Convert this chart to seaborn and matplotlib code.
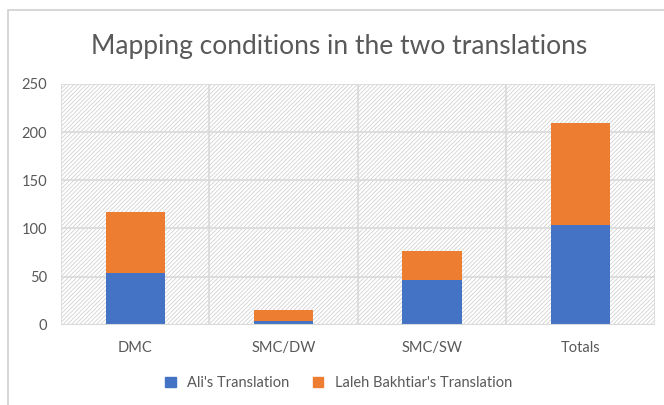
import matplotlib
matplotlib.use("Agg")
from matplotlib import pyplot as plt
from matplotlib.patches import Rectangle, Patch
import numpy as np
import pandas as pd
import seaborn as sns

categories = ["DMC", "SMC/DW", "SMC/SW", "Totals"]
ali = [54, 4, 46, 104]
laleh = [63, 11, 31, 105]
yticks = [0, 50, 100, 150, 200, 250]

blue = "#4472C4"
orange = "#ED7D31"
grid_col = "#d9d9d9"
text_col = "#595959"

sns.set_style("white")
plt.rcParams['font.family'] = ['Lato', 'DejaVu Sans']
plt.rcParams['hatch.linewidth'] = 0.6

df = pd.DataFrame({"cat": categories, "ali": ali, "laleh": laleh})
df["total"] = df["ali"] + df["laleh"]

fig = plt.figure(figsize=(6.64, 4.05), dpi=100)
ax = fig.add_axes([0.092, 0.198, 0.894, 0.595])

# hatched plot area
ax.add_patch(Rectangle((0, 0), 1, 1, transform=ax.transAxes, facecolor="white",
                       edgecolor="#d2d2d2", hatch="////////", lw=0, zorder=0))

sns.barplot(data=df, x="cat", y="total", color=orange, width=0.4,
            saturation=1, linewidth=0, ax=ax, zorder=3)
sns.barplot(data=df, x="cat", y="ali", color=blue, width=0.4,
            saturation=1, linewidth=0, ax=ax, zorder=4)

ax.set_xlim(-0.5, len(categories) - 0.5)
ax.set_ylim(0, 250)
ax.set_yticks(yticks)
for y in yticks[1:]:
    ax.axhline(y, color=grid_col, lw=1.2, zorder=1)
for x in np.arange(-0.5, len(categories), 1.0):
    ax.axvline(x, color=grid_col, lw=1.2, zorder=1)
for s in ax.spines.values():
    s.set_visible(False)
ax.axhline(0, color=grid_col, lw=1.5, zorder=5)

ax.set_xlabel("")
ax.set_ylabel("")
ax.tick_params(axis="both", length=0, colors=text_col, labelsize=10.5)
ax.tick_params(axis="x", pad=12)
ax.tick_params(axis="y", pad=10)

fig.suptitle("Mapping conditions in the two translations", x=0.51, y=0.915,
             fontsize=19, color=text_col)

handles = [Patch(color=blue, label="Ali's Translation"),
           Patch(color=orange, label="Laleh Bakhtiar's Translation")]
fig.legend(handles=handles, loc="center", bbox_to_anchor=(0.51, 0.055), ncol=2,
           frameon=False, fontsize=10.5, labelcolor=text_col, handlelength=0.7,
           handleheight=0.7, columnspacing=1.6, handletextpad=0.8)

# outer chart border
fig.add_artist(Rectangle((0.012, -0.01), 1.0, 0.985, transform=fig.transFigure,
                         fill=False, edgecolor="#d0d0d0", lw=1.2))

fig.savefig("out.png", dpi=100)
